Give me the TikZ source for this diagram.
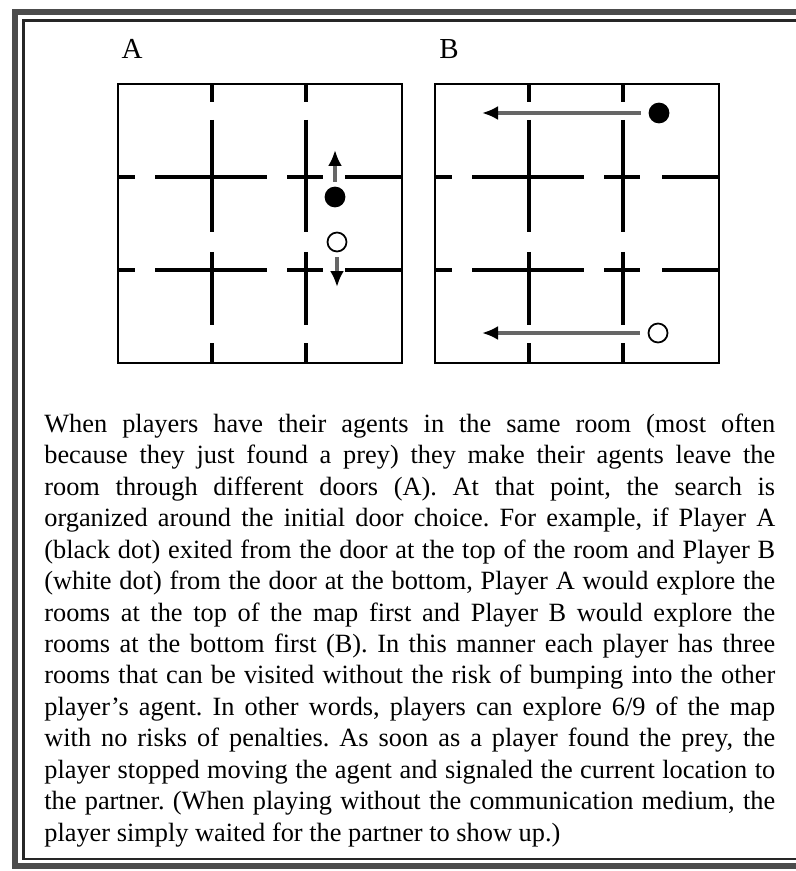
\documentclass[tikz,border=0pt]{standalone}
\usepackage{fontspec}
\setmainfont{Liberation Serif}
\usetikzlibrary{arrows.meta}

\begin{document}
\begin{tikzpicture}[x=0.02cm, y=-0.02cm, every node/.style={font=\fontsize{15}{17.9}\selectfont}]
\tikzstyle{frameout}=[line width=3.2pt, black!70]
\tikzstyle{framein}=[line width=1.4pt, black!85]
\tikzstyle{border}=[line width=1.4pt]
\tikzstyle{wall}=[line width=2.4pt]
\tikzstyle{agent}=[circle, draw, line width=1pt, inner sep=0pt, minimum size=0.38cm]
\tikzstyle{move}=[line width=2pt, black!60, shorten <=0.1cm, -{Latex[black, length=0.32cm, width=0.28cm]}]
\useasboundingbox (0,0) rectangle (795,871);
% double frame, open to the right
\draw[frameout] (15,12) rectangle (810,866);
\draw[framein] (23.5,20.5) rectangle (800,859);
% the two maps, 3x3 rooms with doors
\foreach \gx/\lbl in {118/A,435/B} {
  \node[font=\fontsize{16.5}{18}\selectfont] (lbl\lbl) at (\gx+14,49) {\lbl};
  \begin{scope}[shift={(\gx,84)}]
    \draw[border] (0,0) rectangle (284,279);
    \foreach \p in {94,188}
      \foreach \a/\b in {0/18,36/148,168/241,259/279} \draw[wall] (\p,\a) -- (\p,\b);
    \foreach \p in {93,186}
      \foreach \a/\b in {0/17,37/149,169/205,227/284} \draw[wall] (\a,\p) -- (\b,\p);
  \end{scope}
}
% agents in A
\node[agent, fill=black] (blackA) at (335,197) {};
\node[agent, fill=white] (whiteA) at (337,242) {};
\coordinate (upA) at (335,150);
\coordinate (downA) at (337,287);
\draw[move] (blackA) -- (upA);
\draw[move] (whiteA) -- (downA);
% agents in B
\node[agent, fill=black] (blackB) at (659,113) {};
\node[agent, fill=white] (whiteB) at (658,333) {};
\coordinate (leftB1) at (482,113);
\coordinate (leftB2) at (482,333);
\draw[move, shorten <=0.16cm] (blackB) -- (leftB1);
\draw[move, shorten <=0.16cm] (whiteB) -- (leftB2);
% caption text
\node[anchor=north west, inner sep=0pt, text width=14.62cm, align=justify] (caption) at (44,410) {\frenchspacing\strut When players have their agents in the same room (most often\linebreak
because they just found a prey) they make their agents leave the\linebreak
room through different doors (A). At that point, the search is\linebreak
organized around the initial door choice. For example, if Player A\linebreak
(black dot) exited from the door at the top of the room and Player B\linebreak
(white dot) from the door at the bottom, Player A would explore the\linebreak
rooms at the top of the map first and Player B would explore the\linebreak
rooms at the bottom first (B). In this manner each player has three\linebreak
rooms that can be visited without the risk of bumping into the other\linebreak
player's agent. In other words, players can explore 6/9 of the map\linebreak
with no risks of penalties. As soon as a player found the prey, the\linebreak
player stopped moving the agent and signaled the current location to\linebreak
the partner. (When playing without the communication medium, the\linebreak
player simply waited for the partner to show up.)};
\end{tikzpicture}
\end{document}
